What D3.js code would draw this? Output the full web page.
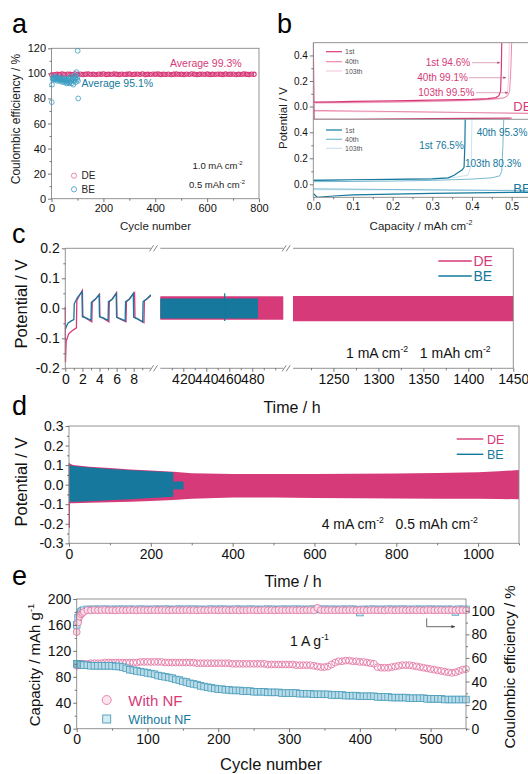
<!DOCTYPE html>
<meta charset="utf-8">
<script src="https://d3js.org/d3.v7.min.js"></script>
<style>
body { margin: 0; background: #fff; }
svg text { font-family: "Liberation Sans", Arial, sans-serif; }
</style>
<div id="my_dataviz"></div>
<script>

// ---------- data: panel a (Coulombic efficiency vs cycle) ----------
var aCycleDE = d3.range(1, 791, 10);
var aCE_DE = [98.8, 99.0, 99.3, 99.1, 99.5, 99.2, 99.4, 99.3, 99.0, 99.6,
  99.2, 99.4, 99.1, 99.3, 99.5, 99.2, 99.3, 99.0, 99.4, 99.3,
  99.6, 99.1, 99.3, 99.2, 99.5, 99.3, 99.1, 99.4, 99.2, 99.3,
  99.5, 99.0, 99.3, 99.4, 99.2, 99.6, 99.1, 99.3, 99.2, 99.4,
  99.3, 99.5, 99.1, 99.3, 99.2, 99.4, 99.0, 99.3, 99.5, 99.2,
  99.3, 99.1, 99.4, 99.2, 99.6, 99.3, 99.0, 99.3, 99.4, 99.2,
  99.5, 99.1, 99.3, 99.2, 99.4, 99.3, 99.1, 99.5, 99.2, 99.3,
  99.4, 99.0, 99.3, 99.2, 99.5, 99.3, 99.1, 99.4, 99.3];
var aCycleBE = [1, 2, 4, 6, 8, 10, 12, 14, 16, 18, 20, 22, 24, 26, 28, 30, 32, 34, 36, 38, 40, 42, 44, 46, 48, 50,
  52, 54, 56, 58, 60, 62, 64, 66, 68, 70, 72, 74, 76, 78, 80, 82, 84, 86, 88, 90, 92, 94, 96, 98, 100, 101, 102, 103];
var aCE_BE = [77, 91, 96, 95, 97, 96, 95, 96, 97, 95, 96, 94, 96, 95, 97, 96, 94, 95, 96, 94, 95, 93, 96, 95, 94, 96,
  93, 95, 94, 92, 95, 94, 93, 96, 92, 95, 93, 97, 94, 92, 96, 95, 91, 97, 94, 98, 96, 93, 101, 95, 97, 118, 94, 80];

// ---------- data: panel b (voltage profiles, capacity / V) ----------
var bDE1_cap = [0, 0.05, 0.1, 0.2, 0.3, 0.4, 0.44, 0.46, 0.468, 0.472, 0.474, 0.475];
var bDE1_v = [0.035, 0.037, 0.04, 0.045, 0.05, 0.056, 0.062, 0.07, 0.085, 0.12, 0.3, 0.5];
var bDE40_cap = [0, 0.1, 0.2, 0.3, 0.4, 0.45, 0.48, 0.49, 0.495, 0.498, 0.5];
var bDE40_v = [0.03, 0.032, 0.036, 0.042, 0.05, 0.058, 0.068, 0.085, 0.12, 0.3, 0.5];
var bDE103_cap = [0, 0.1, 0.2, 0.3, 0.4, 0.45, 0.48, 0.488, 0.492, 0.494];
var bDE103_v = [0.026, 0.028, 0.032, 0.038, 0.046, 0.054, 0.064, 0.08, 0.2, 0.5];
var bDE1p_cap = [0, 0.002, 0.1, 0.3, 0.5];
var bDE1p_v = [0.5, -0.098, -0.1, -0.095, -0.09];
var bDE40p_cap = [0, 0.1, 0.3, 0.55];
var bDE40p_v = [-0.03, -0.035, -0.043, -0.055];
var bDE103p_cap = [0, 0.2, 0.55];
var bDE103p_v = [-0.038, -0.042, -0.05];

var bBE1_cap = [0, 0.05, 0.1, 0.2, 0.3, 0.34, 0.355, 0.365, 0.375, 0.38, 0.382, 0.383];
var bBE1_v = [0.03, 0.032, 0.035, 0.038, 0.042, 0.05, 0.07, 0.09, 0.11, 0.13, 0.3, 0.5];
var bBE40_cap = [0, 0.1, 0.2, 0.3, 0.4, 0.45, 0.47, 0.475, 0.478, 0.48];
var bBE40_v = [0.02, 0.022, 0.025, 0.03, 0.04, 0.05, 0.065, 0.1, 0.3, 0.5];
var bBE103_cap = [0, 0.2, 0.35, 0.39, 0.398, 0.4];
var bBE103_v = [0.035, 0.04, 0.05, 0.07, 0.15, 0.5];
var bBE1p_cap = [0, 0.01, 0.05, 0.1, 0.2, 0.3, 0.4, 0.5, 0.55];
var bBE1p_v = [-0.07, -0.1, -0.09, -0.082, -0.075, -0.07, -0.066, -0.062, -0.06];
var bBE40p_cap = [0, 0.2, 0.55];
var bBE40p_v = [-0.035, -0.04, -0.05];
var bBE103p_cap = [0, 0.3, 0.55];
var bBE103p_v = [-0.042, -0.044, -0.046];

// ---------- data: panel c (symmetric cell, 1 mA cm-2) ----------
var cT_DE = [0, 0.02, 0.1, 0.4, 0.8, 1.3, 1.35, 1.6, 2.0, 2.05, 2.5, 3.1, 3.15, 3.5, 4.0, 4.05, 4.5, 5.1, 5.15, 5.5, 6.0,
  6.05, 6.5, 7.1, 7.15, 7.5, 8.1, 8.15, 8.6, 9.2, 9.25, 9.6, 10];
var cV_DE = [0.005, -0.18, -0.11, -0.085, -0.075, -0.065, 0.025, 0.04, 0.06, -0.025, -0.035, -0.045, 0.02, 0.03, 0.047,
  -0.028, -0.035, -0.045, 0.022, 0.032, 0.052, -0.03, -0.037, -0.045, 0.022, 0.032, 0.052, -0.03, -0.038, -0.048,
  0.025, 0.033, 0.042];
var cT_BE = [0, 0.3, 0.7, 1.0, 1.05, 1.4, 1.95, 2.0, 2.5, 3.0, 3.05, 3.5, 3.95, 4.0, 4.5, 5.0, 5.05, 5.5, 5.95, 6.0, 6.5,
  7.0, 7.05, 7.5, 7.95, 8.0, 8.5, 9.05, 9.1, 9.5, 10];
var cV_BE = [-0.07, -0.05, -0.042, -0.038, 0.015, 0.035, 0.055, -0.028, -0.033, -0.04, 0.02, 0.03, 0.045, -0.028, -0.033,
  -0.04, 0.022, 0.03, 0.05, -0.03, -0.035, -0.042, 0.022, 0.03, 0.05, -0.03, -0.036, -0.045, 0.022, 0.03, 0.045];
// envelopes of the dense cycling (time, upper, lower)
var c2T_DE = [400, 507], c2Hi_DE = [0.04, 0.04], c2Lo_DE = [-0.038, -0.038];
var c2T_BE = [400, 485], c2Hi_BE = [0.033, 0.033], c2Lo_BE = [-0.034, -0.034];
var c2SpikeT = [456, 456], c2SpikeV = [-0.042, 0.05];
var c3T_DE = [1205, 1450], c3Hi_DE = [0.041, 0.041], c3Lo_DE = [-0.043, -0.043];

// ---------- data: panel d (4 mA cm-2) envelopes ----------
var dT_DE = [0, 10, 50, 100, 150, 200, 255, 300, 400, 500, 600, 700, 800, 900, 1000, 1050, 1100];
var dHi_DE = [0.11, 0.1, 0.092, 0.085, 0.078, 0.072, 0.066, 0.058, 0.055, 0.054, 0.055, 0.056, 0.057, 0.06, 0.064, 0.068, 0.075];
var dLo_DE = [-0.095, -0.095, -0.093, -0.09, -0.087, -0.083, -0.078, -0.072, -0.066, -0.066, -0.068, -0.07, -0.071, -0.072, -0.072, -0.073, -0.075];
var dT_BE = [0, 10, 50, 100, 150, 200, 255];
var dHi_BE = [0.1, 0.095, 0.088, 0.08, 0.074, 0.068, 0.063];
var dLo_BE = [-0.088, -0.088, -0.085, -0.08, -0.075, -0.068, -0.062];
var dT_BE2 = [255, 280], dHi_BE2 = [0.016, 0.016], dLo_BE2 = [-0.024, -0.024];
var dSpikeT = [0, 1, 2], dSpikeV = [0.11, -0.22, 0.09];

// ---------- data: panel e (full cell, 1 A g-1) ----------
var eCycle = [0, 2, 4, 6, 8, 10].concat(d3.range(15, 551, 5));
var eCapNF = [97, 98, 99, 99, 100, 100,
  100, 101, 101, 101, 101, 102, 102, 102, 102, 102,
  102, 102, 102, 102, 102, 103, 103, 103, 103, 103,
  103, 103, 102, 102, 102, 102, 102, 102, 102, 102,
  102, 101, 101, 101, 101, 101, 101, 101, 101, 101,
  101, 100, 100, 100, 100, 100, 100, 100, 100, 100,
  100, 99, 99, 99, 99, 99, 99, 99, 99, 98,
  98, 98, 98, 98, 97, 96, 95, 95, 96, 99,
  102, 104, 104, 105, 105, 104, 104, 103, 103, 102,
  101, 100, 95, 94, 94, 94, 95, 96, 97, 98,
  98, 98, 97, 96, 95, 94, 93, 92, 91, 90,
  89, 88, 87, 86, 87, 89, 91, 92];
var eCapNoNF = [100, 100, 99, 99, 98, 98,
  98, 97, 97, 97, 97, 97, 97, 97, 96, 96,
  95, 93, 91, 90, 89, 88, 87, 86, 85, 84,
  82, 81, 80, 79, 78, 76, 75, 73, 72, 70,
  69, 68, 66, 65, 64, 63, 62, 61, 61, 60,
  60, 59, 59, 59, 58, 58, 58, 57, 57, 57,
  57, 56, 56, 56, 56, 55, 55, 55, 55, 55,
  54, 54, 54, 54, 53, 53, 53, 53, 53, 52,
  52, 52, 52, 51, 51, 51, 51, 50, 50, 50,
  50, 50, 49, 49, 49, 49, 48, 48, 48, 48,
  48, 47, 47, 47, 47, 47, 46, 46, 46, 46,
  46, 45, 45, 45, 45, 45, 45, 45];
var eCE_NF = [82, 90, 95, 97, 98, 99,
  100.5, 100.3, 100.6, 100.4, 100.5, 100.7, 100.4, 100.5, 100.3, 100.6,
  100.5, 100.4, 100.6, 100.5, 100.3, 100.6, 100.5, 100.4, 100.6, 100.5,
  100.4, 100.6, 100.5, 100.3, 100.5, 100.6, 100.4, 100.5, 100.6, 100.4,
  100.5, 100.3, 100.6, 100.5, 100.4, 100.6, 100.5, 100.4, 100.5, 100.6,
  100.4, 100.5, 100.6, 100.3, 100.5, 100.4, 100.6, 100.5, 100.4, 100.5,
  100.6, 100.4, 100.5, 100.3, 100.6, 100.5, 100.4, 100.6, 100.5, 100.4,
  100.5, 100.4, 100.6, 100.5, 100.3, 102.5, 100.6, 100.4, 100.5, 100.5,
  100.4, 100.6, 100.5, 100.4, 100.6, 100.5, 100.3, 100.5, 100.6, 100.4,
  100.5, 100.6, 100.4, 100.5, 100.3, 100.6, 100.5, 100.4, 100.5, 100.6,
  100.4, 100.5, 100.6, 100.4, 100.5, 100.3, 100.6, 100.5, 100.4, 100.5,
  100.6, 100.4, 100.5, 100.6, 100.4, 100.5, 100.5, 100.4];
var eCE_NoNF = [88, 94, 97, 99, 100, 100.5,
  101.2, 101.0, 101.3, 101.1, 101.2, 101.3, 101.0, 101.2, 101.1, 101.3,
  101.2, 101.1, 101.3, 101.0, 101.2, 101.3, 101.1, 101.2, 101.0, 101.3,
  101.2, 101.1, 101.3, 101.2, 101.0, 101.2, 101.3, 101.1, 101.2, 101.2,
  101.3, 101.1, 101.2, 101.0, 101.2, 101.3, 101.1, 101.2, 101.3, 101.1,
  101.2, 101.0, 101.3, 101.2, 101.1, 101.2, 101.3, 101.1, 101.2, 101.0,
  101.2, 101.3, 101.1, 101.2, 101.0, 101.3, 101.2, 101.1, 101.2, 101.3,
  101.1, 101.2, 101.0, 101.3, 101.2, 101.1, 101.2, 101.3, 101.1, 101.2,
  101.2, 101.0, 101.3, 101.1, 101.2, 101.3, 101.1, 98.5, 101.2, 101.0,
  101.3, 101.2, 101.1, 101.2, 101.0, 101.3, 101.2, 101.1, 101.2, 101.3,
  101.1, 101.2, 101.0, 101.3, 101.2, 101.1, 101.2, 101.3, 101.1, 101.2,
  101.2, 101.0, 101.3, 101.1, 99.0, 101.3, 101.1, 101.2];

// ---------- drawing ----------
var svg = d3.select("#my_dataviz").append("svg").attr("width", 528).attr("height", 774);
var pink = "#d63a78", teal = "#15789c";
var fmt1 = function (d) { return d.toFixed(1); };
var gap = "\u00a0\u00a0\u00a0";

function frame(x0, y0, x1, y1) {
  svg.append("rect").attr("x", x0).attr("y", y0).attr("width", x1 - x0).attr("height", y1 - y0)
    .attr("fill", "none").attr("stroke", "#888").attr("stroke-width", 0.9);
}
function hline(x0, x1, y) {
  svg.append("line").attr("x1", x0).attr("x2", x1).attr("y1", y).attr("y2", y).attr("stroke", "#888").attr("stroke-width", 0.9);
}
function addAxis(axisFn, scale, pos, major, minor, fs, fmt) {
  var g1 = svg.append("g").attr("transform", pos)
    .call(axisFn(scale).tickValues(minor).tickSize(2).tickFormat(""));
  var g2 = svg.append("g").attr("transform", pos)
    .call(axisFn(scale).tickValues(major).tickSize(3.5).tickPadding(2).tickFormat(fmt || d3.format("d")));
  [g1, g2].forEach(function (g) {
    g.select(".domain").remove();
    g.selectAll("line").attr("stroke", "#555").attr("stroke-width", 0.8);
    g.selectAll("text").attr("font-size", fs).attr("fill", "#111");
  });
}
function rich(x, y, parts, fs, color, anchor, rot) {
  var t = svg.append("text").attr("x", x).attr("y", y).attr("font-size", fs).attr("fill", color)
    .attr("text-anchor", anchor || "start");
  if (rot) t.attr("transform", "rotate(-90," + x + "," + y + ")");
  var up = 0;
  parts.forEach(function (p) {
    var sup = typeof p !== "string";
    var ts = t.append("tspan").text(sup ? p[0] : p);
    if (sup) { ts.attr("font-size", fs * 0.62).attr("dy", -fs * 0.42); up = fs * 0.42; }
    else if (up) { ts.attr("dy", up); up = 0; }
  });
  return t;
}
function plotLine(xs, ys, tArr, vArr, color, w, clip) {
  var pts = tArr.map(function (t, i) { return [t, vArr[i]]; });
  var p = svg.append("path").datum(pts)
    .attr("d", d3.line().x(function (d) { return xs(d[0]); }).y(function (d) { return ys(d[1]); }))
    .attr("fill", "none").attr("stroke", color).attr("stroke-width", w);
  if (clip) p.attr("clip-path", "url(#" + clip + ")");
  return p;
}
function band(xs, ys, tArr, hi, lo, color) {
  var pts = tArr.map(function (t, i) { return { t: t, hi: hi[i], lo: lo[i] }; });
  svg.append("path").datum(pts)
    .attr("d", d3.area().x(function (d) { return xs(d.t); }).y0(function (d) { return ys(d.lo); }).y1(function (d) { return ys(d.hi); }))
    .attr("fill", color);
}
function panelLabel(x, y, s) {
  svg.append("text").attr("x", x).attr("y", y).attr("font-size", 27).attr("fill", "#000").text(s);
}

var defs = svg.append("defs");
function clipRect(id, x0, y0, x1, y1) {
  defs.append("clipPath").attr("id", id).append("rect").attr("x", x0).attr("y", y0).attr("width", x1 - x0).attr("height", y1 - y0);
}
function arrowMarker(id, color) {
  defs.append("marker").attr("id", id).attr("viewBox", "0 0 10 10").attr("refX", 9).attr("refY", 5)
    .attr("markerWidth", 5).attr("markerHeight", 5).attr("orient", "auto")
    .append("path").attr("d", "M0,1 L10,5 L0,9 Z").attr("fill", color);
}
arrowMarker("arrP", "#b5507c");
arrowMarker("arrK", "#444");

// ===== panel a =====
var xA = d3.scaleLinear().domain([0, 800]).range([51.5, 259]);
var yA = d3.scaleLinear().domain([0, 120]).range([198.7, 48.3]);
frame(51.5, 48.3, 259, 198.7);
addAxis(d3.axisBottom, xA, "translate(0,198.7)", [0, 200, 400, 600, 800], [100, 300, 500, 700], 11);
addAxis(d3.axisLeft, yA, "translate(51.5,0)", d3.range(0, 121, 20), d3.range(10, 120, 20), 11);
svg.append("g").selectAll("circle").data(aCycleDE).enter().append("circle")
  .attr("cx", function (d) { return xA(d); })
  .attr("cy", function (d, i) { return yA(aCE_DE[i]); })
  .attr("r", 2.1).attr("fill", "none").attr("stroke", pink).attr("stroke-width", 1.1);
svg.append("g").selectAll("circle").data(aCycleBE).enter().append("circle")
  .attr("cx", function (d) { return xA(d); })
  .attr("cy", function (d, i) { return yA(aCE_BE[i]); })
  .attr("r", 2.4).attr("fill", "none").attr("stroke", "#3a9cc0").attr("stroke-width", 0.8);
svg.append("text").attr("x", 170).attr("y", 67).attr("font-size", 10.5).attr("fill", pink).text("Average 99.3%");
svg.append("text").attr("x", 81.5).attr("y", 87).attr("font-size", 10.5).attr("fill", teal).text("Average 95.1%");
svg.append("circle").attr("cx", 74).attr("cy", 175.7).attr("r", 2.6).attr("fill", "none").attr("stroke", "#e0709c").attr("stroke-width", 0.8);
svg.append("circle").attr("cx", 74).attr("cy", 189.3).attr("r", 2.6).attr("fill", "none").attr("stroke", "#3a9cc0").attr("stroke-width", 0.8);
svg.append("text").attr("x", 81.5).attr("y", 179.3).attr("font-size", 10).attr("fill", "#222").text("DE");
svg.append("text").attr("x", 81.5).attr("y", 193).attr("font-size", 10).attr("fill", "#222").text("BE");
rich(192.5, 169, ["1.0 mA cm", ["-2"]], 9.5, "#222");
rich(189, 188, ["0.5 mAh cm", ["-2"]], 9.5, "#222");
rich(20, 119, ["Coulombic efficiency / %"], 12, "#222", "middle", true);
svg.append("text").attr("x", 155.5).attr("y", 229.5).attr("font-size", 11.5).attr("text-anchor", "middle").attr("fill", "#222").text("Cycle number");
panelLabel(12, 33, "a");

// ===== panel b =====
var xB = d3.scaleLinear().domain([0, 0.55]).range([313.3, 531.5]);
var yBt = d3.scaleLinear().domain([-0.1, 0.5]).range([119.3, 42.7]);
var yBb = d3.scaleLinear().domain([-0.1, 0.5]).range([197.3, 119.3]);
clipRect("clipBt", 313.3, 42.7, 531.5, 119.3);
clipRect("clipBb", 313.3, 119.3, 531.5, 197.3);
var pk40 = "#e889ae", pk103 = "#f6ccdc", tl40 = "#79b9d1", tl103 = "#cbe4ee";
plotLine(xB, yBt, bDE103p_cap, bDE103p_v, pk103, 1, "clipBt");
plotLine(xB, yBt, bDE40p_cap, bDE40p_v, pk40, 1, "clipBt");
plotLine(xB, yBt, bDE1p_cap, bDE1p_v, pink, 1.2, "clipBt");
plotLine(xB, yBt, bDE103_cap, bDE103_v, pk103, 1, "clipBt");
plotLine(xB, yBt, bDE40_cap, bDE40_v, pk40, 1, "clipBt");
plotLine(xB, yBt, bDE1_cap, bDE1_v, pink, 1.2, "clipBt");
plotLine(xB, yBb, bBE103p_cap, bBE103p_v, tl103, 1, "clipBb");
plotLine(xB, yBb, bBE40p_cap, bBE40p_v, tl40, 1, "clipBb");
plotLine(xB, yBb, bBE1p_cap, bBE1p_v, teal, 1.2, "clipBb");
plotLine(xB, yBb, bBE103_cap, bBE103_v, tl103, 1, "clipBb");
plotLine(xB, yBb, bBE40_cap, bBE40_v, tl40, 1, "clipBb");
plotLine(xB, yBb, bBE1_cap, bBE1_v, teal, 1.2, "clipBb");
frame(313.3, 42.7, 531.5, 197.3);
hline(313.3, 531.5, 119.3);
addAxis(d3.axisBottom, xB, "translate(0,197.3)", [0, 0.1, 0.2, 0.3, 0.4, 0.5], [0.05, 0.15, 0.25, 0.35, 0.45], 10, fmt1);
addAxis(d3.axisLeft, yBt, "translate(313.3,0)", [0, 0.2, 0.4], [0.1, 0.3], 10, fmt1);
addAxis(d3.axisLeft, yBb, "translate(313.3,0)", [0, 0.2, 0.4], [0.1, 0.3], 10, fmt1);
// legends
[[51.7, pink, "1st"], [61.7, pk40, "40th"], [71, pk103, "103th"], [130, teal, "1st"], [139.3, tl40, "40th"], [148.3, tl103, "103th"]]
  .forEach(function (l) {
    svg.append("line").attr("x1", 326).attr("x2", 342).attr("y1", l[0]).attr("y2", l[0]).attr("stroke", l[1]).attr("stroke-width", 1.2);
    svg.append("text").attr("x", 345).attr("y", l[0] + 2.5).attr("font-size", 7).attr("fill", "#555").text(l[2]);
  });
// annotations
[[425.7, 66.2, "1st 94.6%", 472, 500, 62.7], [417.3, 81.2, "40th 99.1%", 469, 506, 77.7], [418.3, 96.2, "103th 99.5%", 476, 508, 92.7]]
  .forEach(function (a) {
    svg.append("text").attr("x", a[0]).attr("y", a[1]).attr("font-size", 10).attr("fill", pink).text(a[2]);
    svg.append("line").attr("x1", a[3]).attr("x2", a[4]).attr("y1", a[5]).attr("y2", a[5])
      .attr("stroke", "#c86a92").attr("stroke-width", 0.6).attr("marker-end", "url(#arrP)");
  });
svg.append("text").attr("x", 419.3).attr("y", 149.2).attr("font-size", 10).attr("fill", teal).text("1st 76.5%");
svg.append("text").attr("x", 476.7).attr("y", 135.8).attr("font-size", 10).attr("fill", teal).text("40th 95.3%");
svg.append("text").attr("x", 465).attr("y", 166.8).attr("font-size", 10).attr("fill", teal).text("103th 80.3%");
svg.append("text").attr("x", 513.3).attr("y", 110.5).attr("font-size", 13).attr("fill", pink).text("DE");
svg.append("text").attr("x", 513.3).attr("y", 193).attr("font-size", 13).attr("fill", teal).text("BE");
rich(287, 118, ["Potential / V"], 11.5, "#222", "middle", true);
rich(421, 229.5, ["Capacity / mAh cm", ["-2"]], 11.5, "#222", "middle");
panelLabel(277, 33, "b");

// ===== panel c =====
var yC = d3.scaleLinear().domain([-0.2, 0.2]).range([368.3, 248.3]);
var xC1 = d3.scaleLinear().domain([0, 10]).range([65.3, 150.8]);
var xC2 = d3.scaleLinear().domain([400, 507]).range([160.3, 283.3]);
var xC3 = d3.scaleLinear().domain([1205, 1450]).range([293, 513.3]);
band(xC2, yC, c2T_DE, c2Hi_DE, c2Lo_DE, pink);
band(xC2, yC, c2T_BE, c2Hi_BE, c2Lo_BE, teal);
plotLine(xC2, yC, c2SpikeT, c2SpikeV, teal, 1.2);
band(xC3, yC, c3T_DE, c3Hi_DE, c3Lo_DE, pink);
plotLine(xC1, yC, cT_DE, cV_DE, pink, 1.3);
plotLine(xC1, yC, cT_BE, cV_BE, teal, 1.3);
[[65.3, 150.8], [160.3, 283.3], [293, 513.3]].forEach(function (s) { hline(s[0], s[1], 248.3); hline(s[0], s[1], 368.3); });
svg.append("line").attr("x1", 65.3).attr("x2", 65.3).attr("y1", 248.3).attr("y2", 368.3).attr("stroke", "#888").attr("stroke-width", 0.9);
svg.append("line").attr("x1", 513.3).attr("x2", 513.3).attr("y1", 248.3).attr("y2", 368.3).attr("stroke", "#888").attr("stroke-width", 0.9);
[155.5, 288.2].forEach(function (gx) {
  [248.3, 368.3].forEach(function (gy) {
    [-4, 0].forEach(function (o) {
      svg.append("line").attr("x1", gx + o - 2).attr("y1", gy + 3).attr("x2", gx + o + 2).attr("y2", gy - 3)
        .attr("stroke", "#666").attr("stroke-width", 0.8);
    });
  });
});
addAxis(d3.axisBottom, xC1, "translate(0,368.3)", [0, 2, 4, 6, 8], [1, 3, 5, 7, 9], 14);
addAxis(d3.axisBottom, xC2, "translate(0,368.3)", [420, 440, 460, 480], [410, 430, 450, 470, 490, 500], 14);
addAxis(d3.axisBottom, xC3, "translate(0,368.3)", [1250, 1300, 1350, 1400, 1450], [1225, 1275, 1325, 1375, 1425], 14);
addAxis(d3.axisLeft, yC, "translate(65.3,0)", [-0.2, -0.1, 0, 0.1, 0.2], [-0.15, -0.05, 0.05, 0.15], 14, fmt1);
svg.append("line").attr("x1", 438.3).attr("x2", 471.7).attr("y1", 261).attr("y2", 261).attr("stroke", pink).attr("stroke-width", 1.5);
svg.append("line").attr("x1", 438.3).attr("x2", 471.7).attr("y1", 276).attr("y2", 276).attr("stroke", teal).attr("stroke-width", 1.5);
svg.append("text").attr("x", 473.5).attr("y", 266).attr("font-size", 14).attr("fill", pink).text("DE");
svg.append("text").attr("x", 473.5).attr("y", 281).attr("font-size", 14).attr("fill", teal).text("BE");
rich(346, 358, ["1 mA cm", ["-2"], gap + "1 mAh cm", ["-2"]], 14, "#111");
rich(27, 304, ["Potential / V"], 16.5, "#111", "middle", true);
svg.append("text").attr("x", 292).attr("y", 413).attr("font-size", 16).attr("text-anchor", "middle").attr("fill", "#111").text("Time / h");
panelLabel(12, 243, "c");

// ===== panel d =====
var xD = d3.scaleLinear().domain([0, 1100]).range([69, 519]);
var yD = d3.scaleLinear().domain([-0.3, 0.3]).range([543.3, 426]);
band(xD, yD, dT_DE, dHi_DE, dLo_DE, pink);
plotLine(xD, yD, dSpikeT, dSpikeV, pink, 1);
band(xD, yD, dT_BE, dHi_BE, dLo_BE, teal);
band(xD, yD, dT_BE2, dHi_BE2, dLo_BE2, teal);
frame(69, 426, 519, 543.3);
addAxis(d3.axisBottom, xD, "translate(0,543.3)", [0, 200, 400, 600, 800, 1000], [100, 300, 500, 700, 900, 1100], 14);
addAxis(d3.axisLeft, yD, "translate(69,0)", [-0.3, -0.2, -0.1, 0, 0.1, 0.2, 0.3], [-0.25, -0.15, -0.05, 0.05, 0.15, 0.25], 14, fmt1);
svg.append("line").attr("x1", 456.7).attr("x2", 483.3).attr("y1", 439).attr("y2", 439).attr("stroke", pink).attr("stroke-width", 1.4);
svg.append("line").attr("x1", 456.7).attr("x2", 483.3).attr("y1", 454.3).attr("y2", 454.3).attr("stroke", teal).attr("stroke-width", 1.4);
svg.append("text").attr("x", 487).attr("y", 443.5).attr("font-size", 12.5).attr("fill", pink).text("DE");
svg.append("text").attr("x", 487).attr("y", 458.8).attr("font-size", 12.5).attr("fill", teal).text("BE");
rich(321.7, 528.5, ["4 mA cm", ["-2"], gap + "0.5 mAh cm", ["-2"]], 14, "#111");
rich(27, 482, ["Potential / V"], 16.5, "#111", "middle", true);
svg.append("text").attr("x", 293).attr("y", 587).attr("font-size", 16).attr("text-anchor", "middle").attr("fill", "#111").text("Time / h");
panelLabel(12, 415, "d");

// ===== panel e =====
var xE = d3.scaleLinear().domain([0, 550]).range([76.7, 466]);
var yEL = d3.scaleLinear().domain([0, 200]).range([728.7, 599]);
var yER = d3.scaleLinear().domain([0, 110]).range([728.7, 599]);
svg.append("g").selectAll("circle").data(eCycle).enter().append("circle")
  .attr("cx", function (d) { return xE(d); })
  .attr("cy", function (d, i) { return yEL(eCapNF[i]); })
  .attr("r", 3.4).attr("fill", "none").attr("stroke", "#e47ba6").attr("stroke-width", 0.9);
svg.append("g").selectAll("rect").data(eCycle).enter().append("rect")
  .attr("x", function (d) { return xE(d) - 3.3; })
  .attr("y", function (d, i) { return yEL(eCapNoNF[i]) - 3.3; })
  .attr("width", 6.6).attr("height", 6.6).attr("fill", "#b9dce8").attr("stroke", "#4b9dbc").attr("stroke-width", 0.8);
svg.append("g").selectAll("rect").data(eCycle).enter().append("rect")
  .attr("x", function (d) { return xE(d) - 3.3; })
  .attr("y", function (d, i) { return yER(eCE_NoNF[i]) - 3.3; })
  .attr("width", 6.6).attr("height", 6.6).attr("fill", "#d6ecf3").attr("stroke", "#4b9dbc").attr("stroke-width", 0.8);
svg.append("g").selectAll("circle").data(eCycle).enter().append("circle")
  .attr("cx", function (d) { return xE(d); })
  .attr("cy", function (d, i) { return yER(eCE_NF[i]); })
  .attr("r", 3.4).attr("fill", "#f8dce7").attr("stroke", "#e47ba6").attr("stroke-width", 0.9);
frame(76.7, 599, 466, 728.7);
addAxis(d3.axisBottom, xE, "translate(0,728.7)", [0, 100, 200, 300, 400, 500], [50, 150, 250, 350, 450, 550], 14);
addAxis(d3.axisLeft, yEL, "translate(76.7,0)", [0, 40, 80, 120, 160, 200], [20, 60, 100, 140, 180], 14);
addAxis(d3.axisRight, yER, "translate(466,0)", [0, 20, 40, 60, 80, 100], [10, 30, 50, 70, 90], 14);
svg.append("polyline").attr("points", "426.7,618.3 426.7,626.7 455,626.7")
  .attr("fill", "none").attr("stroke", "#444").attr("stroke-width", 0.8).attr("marker-end", "url(#arrK)");
rich(290, 646, ["1 A g", ["-1"]], 14, "#111");
svg.append("circle").attr("cx", 106.7).attr("cy", 700).attr("r", 4.5).attr("fill", "#fbe6ee").attr("stroke", "#e47ba6").attr("stroke-width", 0.9);
svg.append("rect").attr("x", 102.7).attr("y", 715).attr("width", 8).attr("height", 8).attr("fill", "#d6ecf3").attr("stroke", "#4b9dbc").attr("stroke-width", 0.9);
svg.append("text").attr("x", 128.3).attr("y", 705.5).attr("font-size", 15).attr("fill", pink).text("With NF");
svg.append("text").attr("x", 128.3).attr("y", 723.5).attr("font-size", 12.5).attr("fill", teal).text("Without NF");
rich(40, 665, ["Capacity / mAh g", ["-1"]], 15, "#111", "middle", true);
rich(515, 667, ["Coulombic efficiency / %"], 15, "#111", "middle", true);
svg.append("text").attr("x", 271).attr("y", 770).attr("font-size", 16.5).attr("text-anchor", "middle").attr("fill", "#111").text("Cycle number");
panelLabel(12, 585, "e");

</script>
